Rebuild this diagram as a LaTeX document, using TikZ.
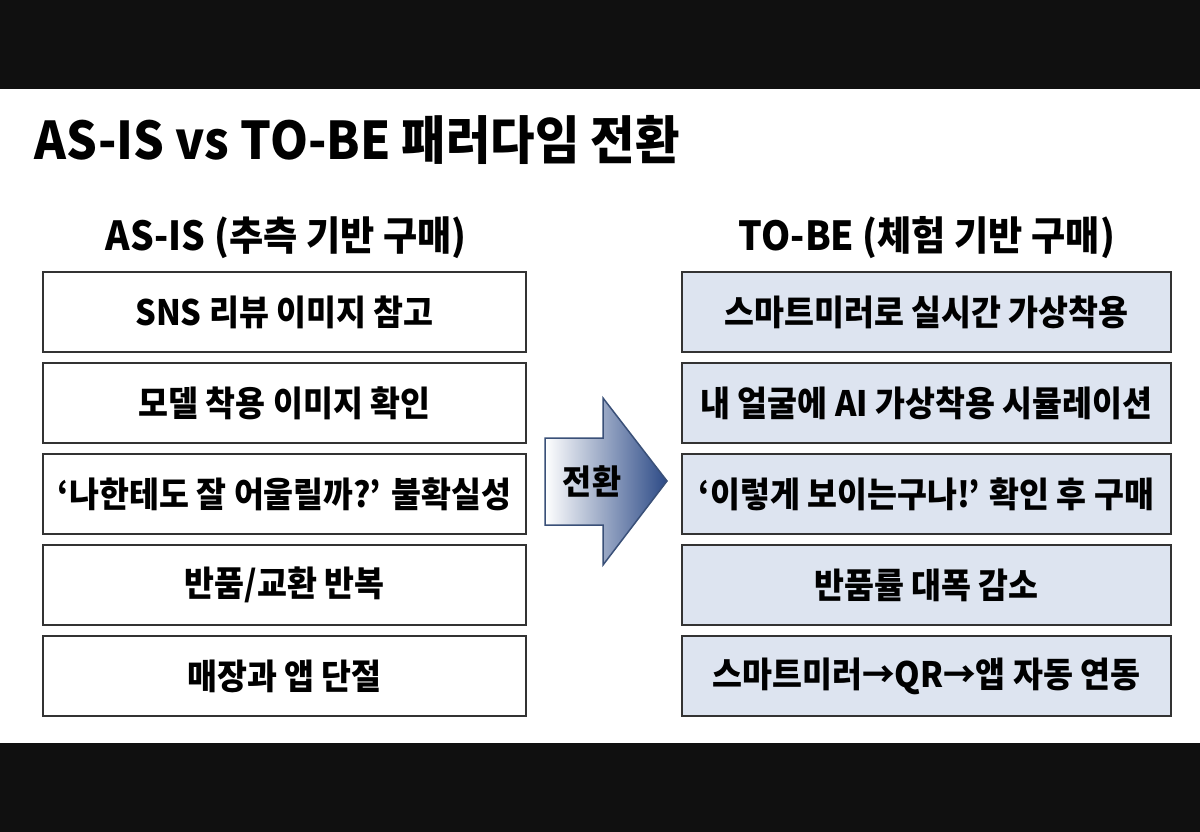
\documentclass[tikz,border=0pt]{standalone}
\usepackage{fontspec}
\setmainfont{Noto Sans CJK KR}[FakeStretch=0.93]
\definecolor{boxblue}{HTML}{DDE4F0}
\definecolor{boxline}{HTML}{333333}
\definecolor{arrowblue}{HTML}{2C4A86}
\definecolor{arrowline}{HTML}{3A5078}
\definecolor{barblack}{HTML}{101010}
\tikzset{
  itembox/.style={draw=boxline, line width=1.3pt, minimum height=80pt, inner sep=0pt,
    font=\fontsize{35}{38}\selectfont\bfseries, text=black},
  asisbox/.style={itembox, fill=white, minimum width=483pt},
  tobebox/.style={itembox, fill=boxblue, minimum width=489pt},
  subhead/.style={font=\fontsize{40}{44}\selectfont\bfseries, anchor=base, inner sep=0pt},
}
\begin{document}
\begin{tikzpicture}[x=1pt,y=-1pt]
\useasboundingbox (0,0) rectangle (1200,832);
\fill[barblack] (0,0) rectangle (1200,832);
\fill[white] (0,89) rectangle (1200,743);
\node[anchor=base west, inner sep=0pt, font=\fontsize{52}{58}\selectfont\bfseries] (title) at (34,160) {AS-IS vs TO-BE 패러다임 전환};
\node[subhead] (hl) at (286,250) {AS-IS (추측 기반 구매)};
\node[subhead] (hr) at (927,250) {TO-BE (체험 기반 구매)};
\node[asisbox] (a1) at (284.5,312) {SNS 리뷰 이미지 참고};
\node[asisbox] (a2) at (284.5,403) {모델 착용 이미지 확인};
\node[asisbox] (a3) at (284.5,494) {‘나한테도 잘 어울릴까?’ 불확실성};
\node[asisbox] (a4) at (284.5,585) {반품/교환 반복};
\node[asisbox] (a5) at (284.5,676) {매장과 앱 단절};
\node[tobebox] (b1) at (926.5,312) {스마트미러로 실시간 가상착용};
\node[tobebox] (b2) at (926.5,403) {내 얼굴에 AI 가상착용 시뮬레이션};
\node[tobebox] (b3) at (926.5,494) {‘이렇게 보이는구나!’ 확인 후 구매};
\node[tobebox] (b4) at (926.5,585) {반품률 대폭 감소};
\node[tobebox] (b5) at (926.5,676) {스마트미러→QR→앱 자동 연동};
\shade[left color=white, right color=arrowblue, draw=arrowline, line width=1.5pt, line join=miter]
  (545,438) -- (603,438) -- (603,398) -- (667,481) -- (603,565) -- (603,525) -- (545,525) -- cycle;
\node[font=\fontsize{34}{38}\selectfont\bfseries, inner sep=0pt] (shift) at (592,481) {전환};
\end{tikzpicture}
\end{document}
